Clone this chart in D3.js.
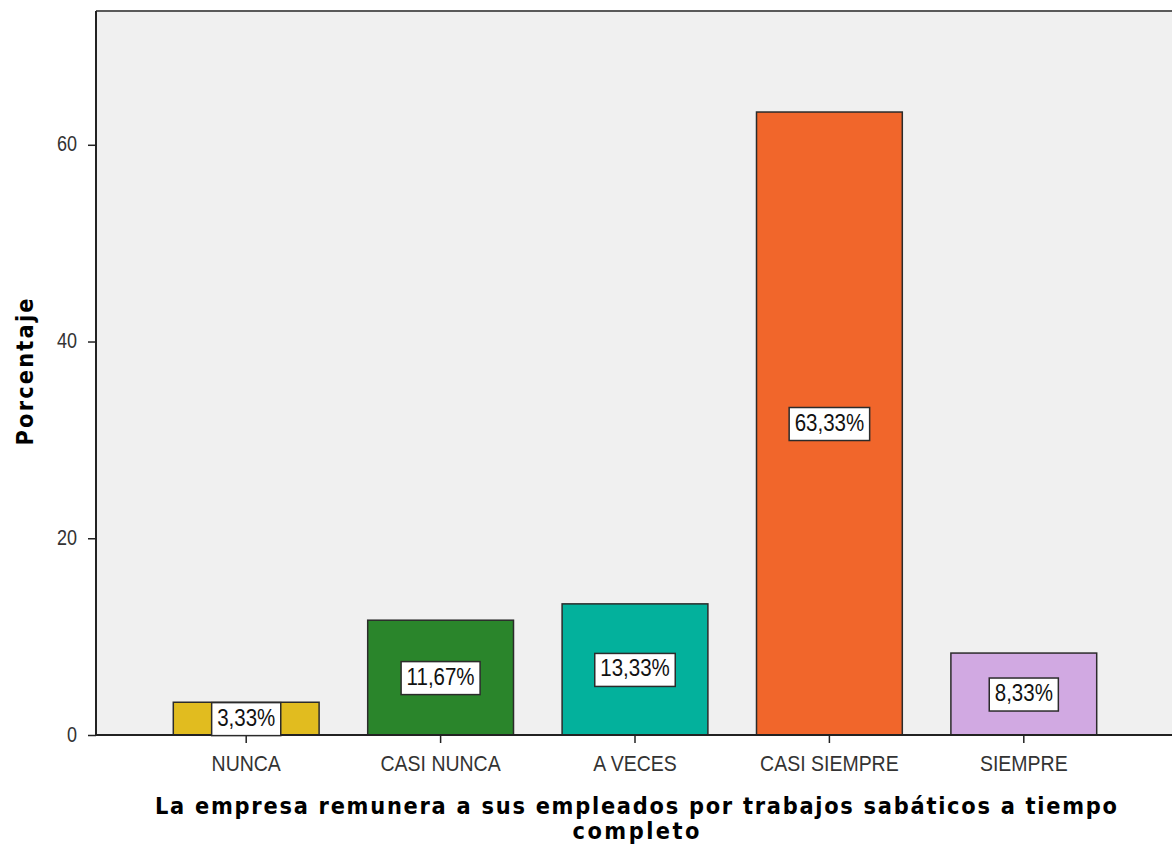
<!DOCTYPE html>
<html>
<head>
<meta charset="utf-8">
<script src="https://cdn.jsdelivr.net/npm/d3@7"></script>
<style>
  html, body { margin: 0; padding: 0; background: #ffffff; }
  svg { display: block; }
  text { font-family: "Liberation Sans", Arial, sans-serif; fill: #222; }
  .title { font-family: "DejaVu Sans", Verdana, sans-serif; }
</style>
</head>
<body>
<svg id="chart" width="1172" height="847"></svg>
<script>
// Response categories and their percentages
const categories = ["NUNCA", "CASI NUNCA", "A VECES", "CASI SIEMPRE", "SIEMPRE"];
const percentages = [3.33, 11.67, 13.33, 63.33, 8.33];
const valueLabels = ["3,33%", "11,67%", "13,33%", "63,33%", "8,33%"];
const barColors = ["#e1bc1f", "#2a852b", "#03b19c", "#f1662b", "#d1a9e2"];
const yTicks = [0, 20, 40, 60];
const xTitleLines = ["La empresa remunera a sus empleados por trabajos sabáticos a tiempo", "completo"];
const yTitle = "Porcentaje";

const svg = d3.select("#chart");
const W = 1172, H = 847;
const plot = { left: 96, top: 11, right: 1180, bottom: 735 };
const stretch = 1.18;

const x = d3.scaleBand()
  .domain(categories)
  .range([149, 1121])
  .paddingInner(0.25)
  .paddingOuter(0.125);

const y = d3.scaleLinear()
  .domain([0, 73.6])
  .range([plot.bottom, plot.top]);

// plot background
svg.append("rect")
  .attr("x", plot.left).attr("y", plot.top)
  .attr("width", plot.right - plot.left).attr("height", plot.bottom - plot.top)
  .attr("fill", "#f0f0f0");

// top frame line
svg.append("line")
  .attr("x1", plot.left).attr("x2", W)
  .attr("y1", plot.top).attr("y2", plot.top)
  .attr("stroke", "#5a5a5a").attr("stroke-width", 2);

// helper: vertically stretched text
function addText(g, txt, tx, ty, opts) {
  const t = g.append("text")
    .attr("transform", `translate(${tx},${ty}) ${opts.rotate ? "rotate(" + opts.rotate + ")" : ""} scale(1,${opts.stretch || stretch})`)
    .attr("text-anchor", opts.anchor || "middle")
    .attr("font-size", opts.size || 19)
    .attr("font-weight", opts.weight || "normal")
    .text(txt);
  if (opts.cls) t.attr("class", opts.cls);
  if (opts.fill) t.style("fill", opts.fill);
  if (opts.length) t.attr("textLength", opts.length).attr("lengthAdjust", "spacing");
  return t;
}

// bars
const bars = svg.append("g");
bars.selectAll("rect")
  .data(categories)
  .join("rect")
  .attr("x", d => x(d))
  .attr("y", (d, i) => y(percentages[i]))
  .attr("width", x.bandwidth())
  .attr("height", (d, i) => y(0) - y(percentages[i]))
  .attr("fill", (d, i) => barColors[i])
  .attr("stroke", "#2b2b2b")
  .attr("stroke-width", 1.5);

// y axis
const yAxis = svg.append("g")
  .attr("transform", `translate(${plot.left},0)`)
  .call(d3.axisLeft(y).tickValues(yTicks).tickSize(8).tickFormat(""));
yAxis.select(".domain").attr("stroke", "#222").attr("stroke-width", 2)
  .attr("d", `M0,${plot.top}V${plot.bottom}`);
yAxis.selectAll(".tick line").attr("stroke", "#222").attr("stroke-width", 1.5);
const yLab = svg.append("g");
yTicks.forEach(v => {
  addText(yLab, String(v), plot.left - 19, y(v) + 6.5, { anchor: "end", size: 18, fill: "#333" });
});

// x axis
const xAxis = svg.append("g")
  .attr("transform", `translate(0,${plot.bottom})`)
  .call(d3.axisBottom(x).tickSize(8).tickFormat(""));
xAxis.select(".domain").attr("stroke", "#222").attr("stroke-width", 2)
  .attr("d", `M${plot.left},0H${W}`);
xAxis.selectAll(".tick line").attr("stroke", "#222").attr("stroke-width", 1.5);
const xLab = svg.append("g");
categories.forEach(c => {
  addText(xLab, c, x(c) + x.bandwidth() / 2, 771, { size: 19.5, fill: "#333", stretch: 1.12 });
});

// value labels in boxes at half bar height
const lab = svg.append("g");
categories.forEach((c, i) => {
  const cx = x(c) + x.bandwidth() / 2;
  const cy = y(percentages[i] / 2);
  const g = lab.append("g");
  const t = addText(g, valueLabels[i], cx, cy + 7, { size: 20.5, fill: "#111", stretch: 1.15 });
  const w = t.node().getComputedTextLength() + 11;
  g.insert("rect", "text")
    .attr("x", cx - w / 2).attr("y", cy - 16)
    .attr("width", w).attr("height", 33)
    .attr("fill", "#ffffff")
    .attr("stroke", "#2b2b2b").attr("stroke-width", 1.5);
});

// axis titles
const titles = svg.append("g");
addText(titles, xTitleLines[0], 636, 814, { size: 21, weight: "bold", fill: "#000", length: 962, cls: "title", stretch: 1.12 });
addText(titles, xTitleLines[1], 636, 839, { size: 21, weight: "bold", fill: "#000", length: 127, cls: "title", stretch: 1.12 });
addText(titles, yTitle, 33, 372, { size: 21, weight: "bold", fill: "#000", rotate: -90, length: 147, cls: "title", stretch: 1.12 });
</script>
</body>
</html>
